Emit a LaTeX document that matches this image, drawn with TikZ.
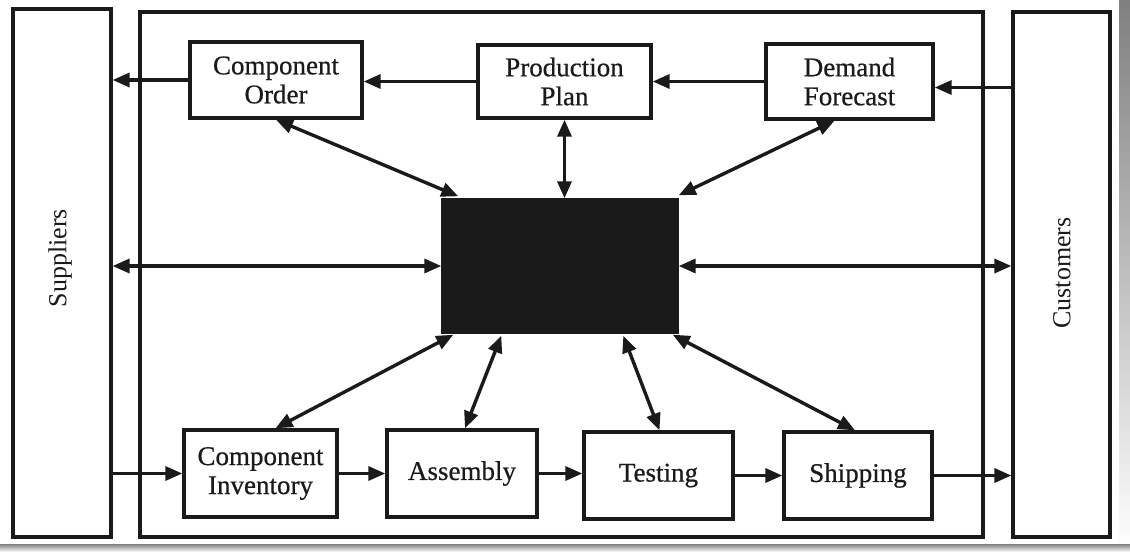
\documentclass[tikz,border=0pt]{standalone}
\usepackage{fontspec}
\setmainfont{Liberation Serif}
\newfontfamily\heavyserif[FakeBold=0.6]{Liberation Serif}
\usetikzlibrary{arrows.meta,calc}
\definecolor{ink}{HTML}{1A1A1A}
\definecolor{shade}{HTML}{A0A0A0}
\begin{document}
\begin{tikzpicture}[x=1pt,y=-1pt,
  every node/.style={inner sep=0pt, text=ink},
  box/.style={draw=ink, line width=3.4pt, fill=white, align=center,
    font=\heavyserif\fontsize{27}{29}\selectfont},
  frame/.style={draw=ink, line width=3.2pt},
  side/.style={font=\fontsize{26}{28}\selectfont, rotate=90},
  conn/.style={draw=ink, line width=3.4pt, -{Triangle[length=17pt,width=14pt]}},
  dconn/.style={draw=ink, line width=3.4pt, {Triangle[length=17pt,width=14pt]}-{Triangle[length=17pt,width=14pt]}}]

% canvas and page shadow
\fill[white] (0,0) rectangle (1130,552);
\fill[shade] (1119,0) rectangle (1130,552);
\fill[shade] (0,544) rectangle (1130,552);
\useasboundingbox (0,0) rectangle (1130,552);

% outer frames
\node[frame, minimum width=98pt, minimum height=528pt] (sup) at (62,273) {};
\node[frame, minimum width=843pt, minimum height=525pt] (main) at (561.5,274.5) {};
\node[frame, minimum width=97pt, minimum height=525pt] (cus) at (1061.5,274.5) {};
\node[side] (suplabel) at (60,258) {Suppliers};
\node[side] (cuslabel) at (1062,273) {Customers};

% top row
\node[box, minimum width=172pt, minimum height=76pt] (co) at (276,80) {Component\\Order};
\node[box, minimum width=173pt, minimum height=73pt] (pp) at (564.5,81.5) {Production\\Plan};
\node[box, minimum width=167pt, minimum height=75pt] (df) at (849.5,81.5) {Demand\\Forecast};

% centre block
\node[draw=ink, fill=ink, line width=3.4pt, minimum width=234pt, minimum height=132pt] (cen) at (560,266) {};

% bottom row
\node[box, minimum width=153pt, minimum height=87pt] (ci) at (260.5,473.5) {Component\\Inventory};
\node[box, minimum width=150pt, minimum height=87pt] (as) at (462,473.5) {Assembly};
\node[box, minimum width=149pt, minimum height=87pt] (te) at (658.5,475.5) {Testing};
\node[box, minimum width=148pt, minimum height=87pt] (sh) at (858,475.5) {Shipping};

% top flow
\draw[conn] (co.west) -- (co.west -| sup.east);
\draw[conn] (pp.west) -- (pp.west -| co.east);
\draw[conn] (df.west) -- (df.west -| pp.east);
\coordinate (dfin) at ($(df.east)+(0,6)$);
\draw[conn] (dfin -| cus.west) -- (dfin);

% links with the centre block
\draw[dconn] (co.south) -- ($(cen.north west)+(17,-2)$);
\draw[dconn] (pp.south) -- (pp.south |- cen.north);
\draw[dconn] ($(df.south)+(-15,0)$) -- ($(cen.north east)+(0,-3)$);
\draw[dconn] (cen.west -| sup.east) -- (cen.west);
\draw[dconn] (cen.east) -- (cen.east -| cus.west);
\draw[dconn] ($(cen.south west)+(12,1)$) -- ($(ci.north)+(15,0)$);
\draw[dconn] ($(cen.south west)+(60,2)$) -- ($(as.north)+(3,0)$);
\draw[dconn] ($(cen.south west)+(182,2)$) -- ($(te.north)+(1,0)$);
\draw[dconn] ($(cen.south east)+(-6,1)$) -- ($(sh.north)+(-3,0)$);

% bottom flow
\draw[conn] (ci.west -| sup.east) -- (ci.west);
\draw[conn] (ci.east) -- (as.west);
\draw[conn] (as.east) -- (as.east -| te.west);
\draw[conn] (te.east) -- (sh.west);
\draw[conn] (sh.east) -- (sh.east -| cus.west);
\end{tikzpicture}
\end{document}
